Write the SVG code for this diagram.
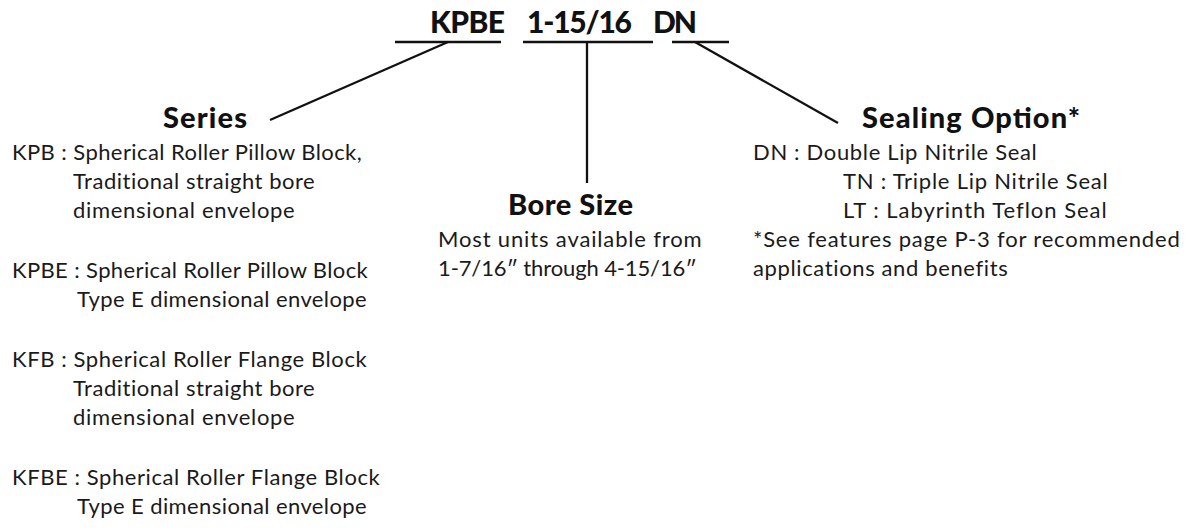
<svg xmlns="http://www.w3.org/2000/svg" width="1188" height="532" viewBox="0 0 1188 532">
<style>
  .title{font-family:Lato,"Liberation Sans",sans-serif;font-weight:900;font-size:30px;fill:#111}
  .head{font-family:Lato,"Liberation Sans",sans-serif;font-weight:900;font-size:29px;fill:#111}
  .body{font-family:Lato,"Liberation Sans",sans-serif;font-weight:400;font-size:22px;letter-spacing:0.3px;fill:#1a1a1a}
  .ln{stroke:#111;stroke-width:2.3;fill:none;stroke-linecap:butt}
</style>
<rect width="1188" height="532" fill="#fff"/>
<g id="title">
  <text class="title" x="430" y="33" textLength="75" lengthAdjust="spacing">KPBE</text>
  <text class="title" x="527" y="33" textLength="105" lengthAdjust="spacing">1-15/16</text>
  <text class="title" x="653" y="33" textLength="44" lengthAdjust="spacing">DN</text>
  <line class="ln" x1="395" y1="42" x2="501" y2="42"/>
  <line class="ln" x1="523" y1="42" x2="653" y2="42"/>
  <line class="ln" x1="672" y1="42" x2="729" y2="42"/>
</g>
<g id="connectors">
  <line class="ln" x1="448" y1="42" x2="270" y2="120"/>
  <line class="ln" x1="587" y1="42" x2="587" y2="183"/>
  <line class="ln" x1="695" y1="42" x2="838" y2="123"/>
</g>
<g id="series">
  <text class="head" x="163" y="128" textLength="84" lengthAdjust="spacing">Series</text>
  <text class="body" x="12" y="160" textLength="350" lengthAdjust="spacing">KPB : Spherical Roller Pillow Block,</text>
  <text class="body" x="73" y="189" textLength="242" lengthAdjust="spacing">Traditional straight bore</text>
  <text class="body" x="73" y="218" textLength="222" lengthAdjust="spacing">dimensional envelope</text>
  <text class="body" x="12" y="278" textLength="356" lengthAdjust="spacing">KPBE : Spherical Roller Pillow Block</text>
  <text class="body" x="77" y="307" textLength="290" lengthAdjust="spacing">Type E dimensional envelope</text>
  <text class="body" x="12" y="367" textLength="355" lengthAdjust="spacing">KFB : Spherical Roller Flange Block</text>
  <text class="body" x="73" y="396" textLength="242" lengthAdjust="spacing">Traditional straight bore</text>
  <text class="body" x="73" y="425" textLength="222" lengthAdjust="spacing">dimensional envelope</text>
  <text class="body" x="12" y="485" textLength="368" lengthAdjust="spacing">KFBE : Spherical Roller Flange Block</text>
  <text class="body" x="77" y="514" textLength="290" lengthAdjust="spacing">Type E dimensional envelope</text>
</g>
<g id="bore-size">
  <text class="head" x="508" y="215" textLength="125" lengthAdjust="spacing">Bore Size</text>
  <text class="body" x="438" y="247" textLength="264" lengthAdjust="spacing">Most units available from</text>
  <text class="body" x="438" y="276" textLength="259" lengthAdjust="spacing">1-7/16″ through 4-15/16″</text>
</g>
<g id="sealing-option">
  <text class="head" x="862" y="128" textLength="218" lengthAdjust="spacing">Sealing Option*</text>
  <text class="body" x="753" y="160" textLength="284" lengthAdjust="spacing">DN : Double Lip Nitrile Seal</text>
  <text class="body" x="843" y="189" textLength="265" lengthAdjust="spacing">TN : Triple Lip Nitrile Seal</text>
  <text class="body" x="843" y="218" textLength="264" lengthAdjust="spacing">LT : Labyrinth Teflon Seal</text>
  <text class="body" x="753" y="247" textLength="427" lengthAdjust="spacing">*See features page P-3 for recommended</text>
  <text class="body" x="753" y="276" textLength="255" lengthAdjust="spacing">applications and benefits</text>
</g>
</svg>
